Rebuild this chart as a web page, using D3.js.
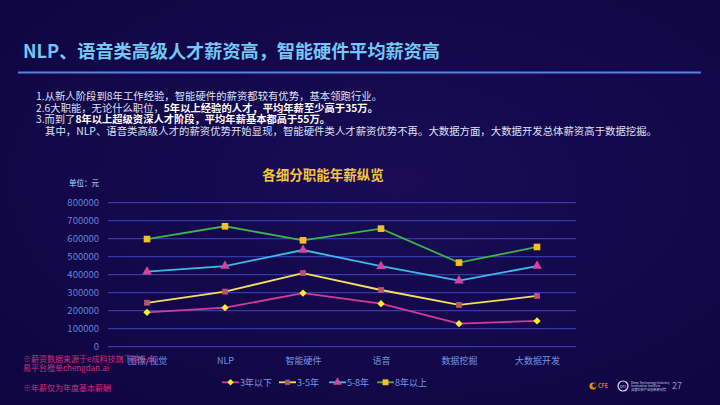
<!DOCTYPE html>
<html>
<head>
<meta charset="utf-8">
<script src="https://cdn.jsdelivr.net/npm/d3@7"></script>
<style>
  html, body { margin: 0; padding: 0; background: #140848; }
  svg { display: block; }
  text { font-family: "Noto Sans CJK SC", "Noto Sans", sans-serif; }
</style>
</head>
<body>
<div id="chart"></div>
<script>
const categories = ["图像/视觉", "NLP", "智能硬件", "语音", "数据挖掘", "大数据开发"];
const seriesNames = ["3年以下", "3-5年", "5-8年", "8年以上"];
const under3 = [191000, 217000, 298000, 239000, 128000, 143000];
const y3to5 = [244000, 306000, 409000, 315000, 232000, 282000];
const y5to8 = [417000, 448000, 537000, 447000, 367000, 448000];
const over8 = [598000, 669000, 591000, 656000, 467000, 554000];
const yTicks = [0, 100000, 200000, 300000, 400000, 500000, 600000, 700000, 800000];

const width = 720;
const height = 405;

const svg = d3
  .select("#chart")
  .append("svg")
  .attr("viewBox", [0, 0, width, height])
  .attr("width", width)
  .attr("height", height);

// background
const defs = svg.append("defs");
const bg = defs
  .append("radialGradient")
  .attr("id", "bg")
  .attr("cx", "55%")
  .attr("cy", "45%")
  .attr("r", "75%");
bg.append("stop").attr("offset", "0%").attr("stop-color", "#190c55");
bg.append("stop").attr("offset", "100%").attr("stop-color", "#0f0541");
svg.append("rect").attr("width", width).attr("height", height).attr("fill", "url(#bg)");

// page title
svg
  .append("text")
  .text("NLP、语音类高级人才薪资高，智能硬件平均薪资高")
  .attr("x", 23)
  .attr("y", 58)
  .attr("font-size", 18)
  .attr("font-weight", 700)
  .attr("fill", "#74c8f4")
  .attr("textLength", 417)
  .attr("lengthAdjust", "spacingAndGlyphs");

svg
  .append("line")
  .attr("x1", 18)
  .attr("x2", 701)
  .attr("y1", 72.5)
  .attr("y2", 72.5)
  .attr("stroke", "#5683df")
  .attr("stroke-width", 1.8);

// bullet text, [text, bold] parts
const notes = [
  { x: 36, end: 382, parts: [["1.从新人阶段到8年工作经验，智能硬件的薪资都较有优势，基本领跑行业。", false]] },
  { x: 36, end: 378, parts: [["2.6大职能，无论什么职位，", false], ["5年以上经验的人才，平均年薪至少高于35万。", true]] },
  { x: 36, end: 330, parts: [["3.而到了", false], ["8年以上超级资深人才阶段，平均年薪基本都高于55万。", true]] },
  { x: 45, end: 657, parts: [["其中，NLP、语音类高级人才的薪资优势开始显现，智能硬件类人才薪资优势不再。大数据方面，大数据开发总体薪资高于数据挖掘。", false]] },
];
notes.forEach((n, i) => {
  const t = svg
    .append("text")
    .attr("y", 100 + i * 11.6)
    .attr("font-size", 10)
    .attr("fill", "#dfe3f5");
  const spans = n.parts.map((p) =>
    t.append("tspan").text(p[0]).attr("font-weight", p[1] ? 700 : 400).attr("fill", p[1] ? "#ffffff" : "#dfe3f5")
  );
  const lens = spans.map((s) => s.node().getComputedTextLength());
  const k = (n.end - n.x) / d3.sum(lens);
  let cx = n.x;
  spans.forEach((s, j) => {
    s.attr("x", cx).attr("textLength", lens[j] * k).attr("lengthAdjust", "spacingAndGlyphs");
    cx += lens[j] * k;
  });
});

// chart title
svg
  .append("text")
  .text("各细分职能年薪纵览")
  .attr("x", 323)
  .attr("y", 180)
  .attr("text-anchor", "middle")
  .attr("font-size", 13.5)
  .attr("font-weight", 700)
  .attr("fill", "#f4c43c");

svg
  .append("text")
  .text("单位：元")
  .attr("x", 99)
  .attr("y", 185.5)
  .attr("text-anchor", "end")
  .attr("font-size", 7.5)
  .attr("font-weight", 700)
  .attr("fill", "#7da2ea");

// scales
const xScale = d3.scalePoint().domain(categories).range([108, 576]).padding(0.5);
const yScale = d3.scaleLinear().domain([0, 800000]).range([346.7, 202.7]);

// grid
svg
  .append("g")
  .selectAll("line")
  .data(yTicks)
  .join("line")
  .attr("x1", 108)
  .attr("x2", 576)
  .attr("y1", (d) => yScale(d))
  .attr("y2", (d) => yScale(d))
  .attr("stroke", "#3d45c6")
  .attr("stroke-width", 1);

const yAxis = svg
  .append("g")
  .attr("transform", "translate(99,0)")
  .call(d3.axisLeft(yScale).tickValues(yTicks).tickSize(0).tickPadding(0).tickFormat((d) => String(d)));
yAxis.select(".domain").remove();
yAxis
  .selectAll("text")
  .attr("font-family", "Roboto, 'Noto Sans', sans-serif")
  .attr("font-size", 9.5)
  .attr("fill", "#6585dc");

const xAxis = svg
  .append("g")
  .attr("transform", `translate(0,${yScale(0)})`)
  .call(d3.axisBottom(xScale).tickSize(0).tickPadding(10.5));
xAxis.select(".domain").remove();
xAxis
  .selectAll("text")
  .attr("font-family", "'Noto Sans CJK SC', sans-serif")
  .attr("font-size", 9)
  .attr("fill", "#7594e4");

// series
const series = [
  { name: seriesNames[0], values: under3, line: "#d43a9c", marker: "#fff02a", shape: d3.symbolDiamond2, size: 34 },
  { name: seriesNames[1], values: y3to5, line: "#f2e25a", marker: "#b4546e", shape: d3.symbolSquare, size: 34 },
  { name: seriesNames[2], values: y5to8, line: "#3fbbea", marker: "#d4449e", shape: d3.symbolTriangle, size: 40 },
  { name: seriesNames[3], values: over8, line: "#3cb64c", marker: "#f6c024", shape: d3.symbolSquare, size: 44 },
];

const lineGen = d3
  .line()
  .x((d, i) => xScale(categories[i]))
  .y((d) => yScale(d));

series.forEach((s) => {
  svg
    .append("path")
    .attr("d", lineGen(s.values))
    .attr("fill", "none")
    .attr("stroke", s.line)
    .attr("stroke-width", 1.8);
  svg
    .append("g")
    .selectAll("path")
    .data(s.values)
    .join("path")
    .attr("transform", (d, i) => `translate(${xScale(categories[i])},${yScale(d)})`)
    .attr("d", d3.symbol().type(s.shape).size(s.size))
    .attr("fill", s.marker);
});

// legend
const legendX = [222, 279, 329, 377];
const legend = svg
  .append("g")
  .selectAll("g")
  .data(series)
  .join("g")
  .attr("transform", (d, i) => `translate(${legendX[i]},382.3)`);
legend
  .append("line")
  .attr("x1", 0)
  .attr("x2", 17)
  .attr("stroke", (d) => d.line)
  .attr("stroke-width", 1.8);
legend
  .append("path")
  .attr("transform", "translate(8.5,0)")
  .attr("d", (d) => d3.symbol().type(d.shape).size(d.size * 0.8)())
  .attr("fill", (d) => d.marker);
legend
  .append("text")
  .text((d) => d.name)
  .attr("x", 18)
  .attr("y", 3.3)
  .attr("font-size", 9)
  .attr("fill", "#7f96e2");

// footnotes
const footnotes = [
  ["※薪资数据来源于e成科技旗下猎头众", 362],
  ["易平台橙单chengdan.ai", 371],
  ["※年薪仅为年度基本薪酬", 391],
];
svg
  .append("g")
  .selectAll("text")
  .data(footnotes)
  .join("text")
  .text((d) => d[0])
  .attr("x", 23)
  .attr("y", (d) => d[1])
  .attr("font-size", 8)
  .attr("fill", "#d2307c");

// logos
const logo = svg.append("g").attr("transform", "translate(593,386)");
logo.append("circle").attr("r", 3.5).attr("fill", "#e88a1c");
logo.append("circle").attr("cx", 1.5).attr("cy", -0.5).attr("r", 2.2).attr("fill", "#140848");
logo
  .append("text")
  .text("CFE")
  .attr("x", 5)
  .attr("y", 2)
  .attr("font-size", 5.5)
  .attr("font-weight", 700)
  .attr("fill", "#c87a2a");
logo
  .append("circle")
  .attr("cx", 30)
  .attr("r", 5)
  .attr("fill", "none")
  .attr("stroke", "#d8dcf4")
  .attr("stroke-width", 1.2);
logo
  .append("text")
  .text("DTI")
  .attr("x", 30)
  .attr("y", 1.6)
  .attr("text-anchor", "middle")
  .attr("font-size", 4)
  .attr("fill", "#d8dcf4");
["Deep Technology Industry", "Innovation Institute", "深度科技产业创新研究院"].forEach((t, i) => {
  logo
    .append("text")
    .text(t)
    .attr("x", 38)
    .attr("y", -2.5 + i * 3.6)
    .attr("font-size", 3.2)
    .attr("fill", "#c8cce8");
});
svg
  .append("text")
  .text("27")
  .attr("x", 672)
  .attr("y", 389)
  .attr("font-size", 9)
  .attr("fill", "#9096b8");
</script>
</body>
</html>
